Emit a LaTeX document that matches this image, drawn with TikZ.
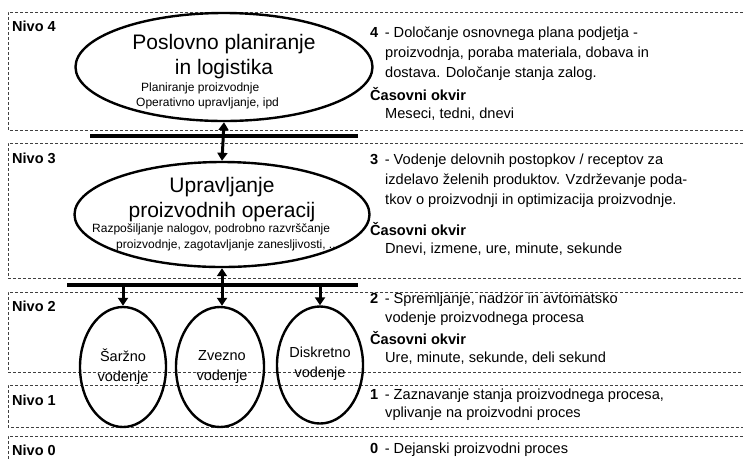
\documentclass[tikz,border=0pt]{standalone}
\usepackage{fontspec}
\setmainfont{Liberation Sans}
\usetikzlibrary{shapes.geometric,arrows.meta}
\begin{document}
\begin{tikzpicture}[x=1pt,y=-1pt,
  levelbox/.style={draw=black!75,line width=0.7pt,dash pattern=on 3pt off 2pt},
  proc/.style={ellipse,draw,line width=2.4pt,inner sep=0pt},
  bus/.style={line width=4pt},
  link/.style={line width=3pt,-{Triangle[width=10pt,length=8pt]}},
  dlink/.style={line width=3pt,{Triangle[width=10pt,length=8pt]}-{Triangle[width=10pt,length=8pt]}},
  nivo/.style={anchor=west,inner sep=0pt,font=\fontsize{14.5}{16}\selectfont\bfseries},
  desc/.style={anchor=west,inner sep=0pt,font=\fontsize{14.6}{16}\selectfont},
  head/.style={desc,font=\fontsize{14.6}{16}\selectfont\bfseries},
  big/.style={inner sep=0pt,font=\fontsize{21}{24}\selectfont},
  small/.style={anchor=west,inner sep=0pt,font=\fontsize{12}{13}\selectfont},
  mid/.style={inner sep=0pt,align=center,font=\fontsize{14.5}{20}\selectfont}]
\useasboundingbox (0,0) rectangle (743,459);
\fill[white] (0,0) rectangle (743,459);

% level frames (open on the right)
\draw[levelbox] (743,12) -- (8,12) -- (8,130) -- (743,130);
\draw[levelbox] (743,143) -- (8,143) -- (8,278) -- (743,278);
\draw[levelbox] (743,292) -- (8,292) -- (8,372) -- (743,372);
\draw[levelbox] (743,385) -- (8,385) -- (8,427) -- (743,427);
\draw[levelbox] (743,436) -- (8,436) -- (8,465);

% level labels
\node[nivo] (n4) at (12,26) {Nivo 4};
\node[nivo] (n3) at (12,158) {Nivo 3};
\node[nivo] (n2) at (12,306) {Nivo 2};
\node[nivo] (n1) at (12,400) {Nivo 1};
\node[nivo] (n0) at (12,450) {Nivo 0};

% process ellipses
\node[proc,minimum width=297pt,minimum height=108pt] (plan) at (224,67) {};
\node[proc,minimum width=295pt,minimum height=105pt] (ops) at (222,214.5) {};
\node[proc,minimum width=86pt,minimum height=120pt] (batch) at (123,367) {};
\node[proc,minimum width=88pt,minimum height=120pt] (cont) at (220,367) {};
\node[proc,minimum width=86pt,minimum height=117pt] (disc) at (320,365) {};

% texts inside the ellipses
\node[big] (t4a) at (224,44) {Poslovno planiranje};
\node[big] (t4b) at (224,69) {in logistika};
\node[small] (t4c) at (141,88) {Planiranje proizvodnje};
\node[small] (t4d) at (136,103) {Operativno upravljanje, ipd};
\node[big] (t3a) at (222,187) {Upravljanje};
\node[big] (t3b) at (222,212) {proizvodnih operacij};
\node[small] (t3c) at (92,229) {Razpošiljanje nalogov, podrobno razvrščanje};
\node[small] (t3d) at (116,245) {proizvodnje, zagotavljanje zanesljivosti, ...};
\node[mid] (tb) at (123,367) {Šaržno\\vodenje};
\node[mid] (tc) at (222,367) {Zvezno\\vodenje};
\node[mid] (td) at (320,364) {Diskretno\\vodenje};

% buses
\coordinate (bus1w) at (90,136);
\coordinate (bus1e) at (358,136);
\coordinate (bus2w) at (67,285);
\coordinate (bus2e) at (358,285);
\draw[bus] (bus1w) -- (bus1e);
\draw[bus] (bus2w) -- (bus2e);

% connections
\draw[dlink] (plan.south) -- (ops.north);
\draw[dlink] (ops.south) -- (ops.south |- cont.north);
\draw[link] (bus2w -| batch.north) -- (batch.north);
\draw[link] (bus2w -| disc.north) -- (disc.north);

% descriptions
\node[desc] (d4a) at (370,34) {\textbf{4}\, - Določanje osnovnega plana podjetja -};
\node[desc] (d4b) at (385,54) {proizvodnja, poraba materiala, dobava in};
\node[desc] (d4c) at (385,74) {dostava. Določanje stanja zalog.};
\node[head] (d4d) at (370,94) {Časovni okvir};
\node[desc] (d4e) at (385,114) {Meseci, tedni, dnevi};

\node[desc] (d3a) at (370,161) {\textbf{3}\, - Vodenje delovnih postopkov / receptov za};
\node[desc] (d3b) at (385,181) {izdelavo želenih produktov. Vzdrževanje poda-};
\node[desc] (d3c) at (385,201) {tkov o proizvodnji in optimizacija proizvodnje.};
\node[head] (d3d) at (370,229) {Časovni okvir};
\node[desc] (d3e) at (385,249) {Dnevi, izmene, ure, minute, sekunde};

\node[desc] (d2a) at (370,300) {\textbf{2}\, - Spremljanje, nadzor in avtomatsko};
\node[desc] (d2b) at (385,319) {vodenje proizvodnega procesa};
\node[head] (d2c) at (370,338) {Časovni okvir};
\node[desc] (d2d) at (385,358) {Ure, minute, sekunde, deli sekund};

\node[desc] (d1a) at (370,396) {\textbf{1}\, - Zaznavanje stanja proizvodnega procesa,};
\node[desc] (d1b) at (385,414) {vplivanje na proizvodni proces};

\node[desc] (d0a) at (370,450) {\textbf{0}\, - Dejanski proizvodni proces};
\end{tikzpicture}
\end{document}
